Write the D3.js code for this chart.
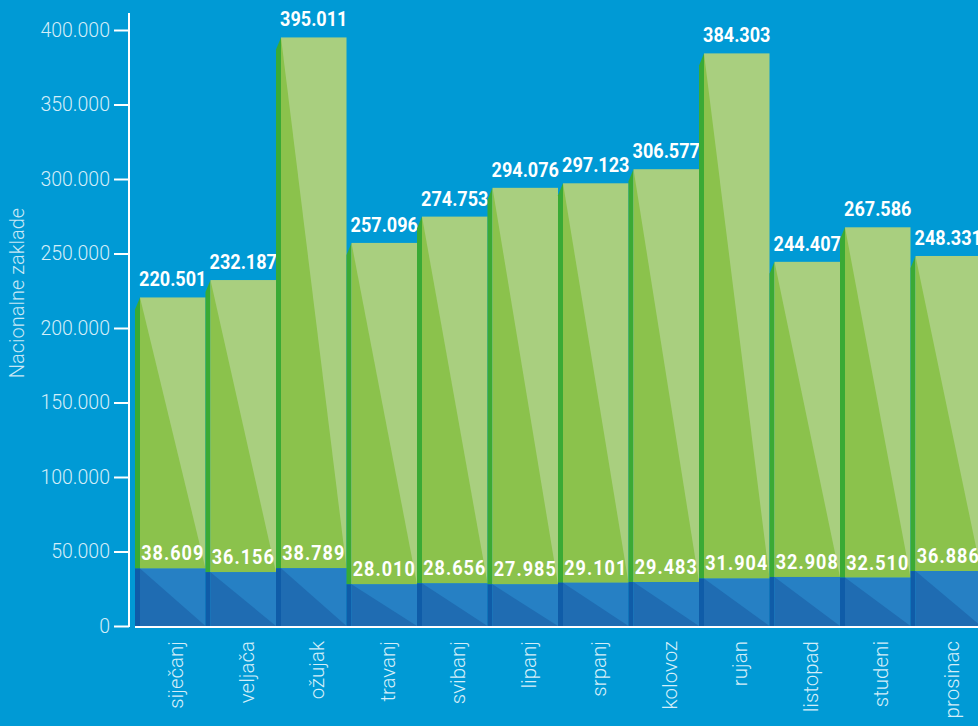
<!DOCTYPE html>
<html>
<head>
<meta charset="utf-8">
<script src="https://cdn.jsdelivr.net/npm/d3@7"></script>
<style>
  html, body { margin: 0; padding: 0; background: #009ad5; overflow: hidden; }
  svg { display: block; }
</style>
</head>
<body>
<svg id="chart" width="978" height="726"></svg>
<script>
// ---- data ----
const months = ["siječanj", "veljača", "ožujak", "travanj", "svibanj", "lipanj",
                "srpanj", "kolovoz", "rujan", "listopad", "studeni", "prosinac"];
const totalValues = [220501, 232187, 395011, 257096, 274753, 294076,
                     297123, 306577, 384303, 244407, 267586, 248331];
const blueValues = [38609, 36156, 38789, 28010, 28656, 27985,
                    29101, 29483, 31904, 32908, 32510, 36886];
const yTicks = [0, 50000, 100000, 150000, 200000, 250000, 300000, 350000, 400000];
const yTitle = "Nacionalne zaklade";

// ---- setup ----
const svg = d3.select("#chart");
const W = 978, H = 726;
const loc = d3.formatLocale({decimal: ",", thousands: ".", grouping: [3], currency: ["", ""]});
const fmt = loc.format(",");

const x = d3.scaleBand().domain(months).range([135, 135 + 12 * 70.5]).paddingInner(0).paddingOuter(0);
const y = d3.scaleLinear().domain([0, 400000]).range([626, 30]);

const SIDE = 5;
const col = {
  bg: "#009ad5",
  gLight: "#a9cf7f", gMid: "#8bc24c", gSide: "#3aaa35",
  bLight: "#2680c4", bDark: "#1f6cb2", bSide: "#0f5ca8"
};

svg.append("rect").attr("width", W).attr("height", H).attr("fill", col.bg);

const data = months.map((m, i) => ({m, total: totalValues[i], blue: blueValues[i]}));

const g = svg.append("g");
const bars = g.selectAll("g.bar").data(data).join("g").attr("class", "bar");

bars.each(function(d) {
  const s = d3.select(this);
  const x0 = x(d.m), w = x.bandwidth();
  const xf = x0 + SIDE, xr = x0 + w;
  const yT = y(d.total), yB = y(d.blue), y0 = y(0);
  const pts = a => a.map(p => p.join(",")).join(" ");
  // green segment
  s.append("polygon").attr("points", pts([[x0, yT + 12], [xf, yT], [xf, yB], [x0, yB]])).attr("fill", col.gSide);
  s.append("rect").attr("x", xf).attr("y", yT).attr("width", xr - xf).attr("height", yB - yT).attr("fill", col.gLight);
  s.append("polygon").attr("points", pts([[xf, yT], [xf, yB], [xr, yB]])).attr("fill", col.gMid);
  // blue segment
  s.append("rect").attr("x", x0).attr("y", yB).attr("width", SIDE).attr("height", y0 - yB).attr("fill", col.bSide);
  s.append("rect").attr("x", xf).attr("y", yB).attr("width", xr - xf).attr("height", y0 - yB).attr("fill", col.bLight);
  s.append("polygon").attr("points", pts([[xf, yB], [xf, y0], [xr, y0]])).attr("fill", col.bDark);
  // labels
  const cx = (xf + xr) / 2;
  s.append("text").attr("transform", `translate(${cx},${yT - 11}) scale(0.86,1)`)
    .attr("text-anchor", "middle")
    .attr("font-family", "Roboto, sans-serif")
    .attr("font-weight", "bold").attr("font-size", 21).attr("fill", "#ffffff")
    .text(fmt(d.total));
  s.append("text").attr("transform", `translate(${cx},${yB - 8}) scale(0.86,1)`)
    .attr("text-anchor", "middle")
    .attr("font-family", "Roboto, sans-serif")
    .attr("font-weight", "bold").attr("font-size", 21).attr("letter-spacing", 1.2).attr("fill", "#ffffff")
    .text(fmt(d.blue));
});

// ---- y axis ----
const yAxis = d3.axisLeft(y).tickValues(yTicks).tickFormat(v => fmt(v)).tickSize(15).tickSizeOuter(0).tickPadding(4);
const ya = svg.append("g").attr("transform", "translate(129,0)").call(yAxis);
ya.select(".domain").remove();
ya.selectAll(".tick line").attr("stroke", "#ffffff").attr("stroke-width", 2);
ya.selectAll(".tick text").attr("fill", "#d4eef9").attr("font-family", "Roboto, sans-serif")
  .attr("font-weight", 300).attr("font-size", 19.5);
ya.append("line").attr("x1", 0).attr("x2", 0).attr("y1", 13).attr("y2", 627)
  .attr("stroke", "#ffffff").attr("stroke-width", 2);

// ---- x axis ----
const xAxis = d3.axisBottom(x).tickSize(0).tickSizeOuter(0);
const xa = svg.append("g").attr("transform", "translate(0,627)").call(xAxis);
xa.select(".domain").remove();
xa.append("line").attr("x1", 135).attr("x2", W).attr("y1", 0).attr("y2", 0)
  .attr("stroke", "#ffffff").attr("stroke-width", 2);
xa.selectAll(".tick text")
  .attr("transform", "translate(6,14) rotate(-90)")
  .attr("x", 0).attr("y", 0).attr("dy", "0.35em")
  .attr("text-anchor", "end")
  .attr("fill", "#d4eef9").attr("font-family", "Roboto, sans-serif")
  .attr("font-weight", 300).attr("font-size", 20.5);

// ---- y title ----
svg.append("text")
  .attr("transform", `translate(24,${293}) rotate(-90)`)
  .attr("text-anchor", "middle")
  .attr("fill", "#c8e8f6").attr("font-family", "Roboto, sans-serif")
  .attr("font-weight", 300).attr("font-size", 20)
  .text(yTitle);
</script>
</body>
</html>
